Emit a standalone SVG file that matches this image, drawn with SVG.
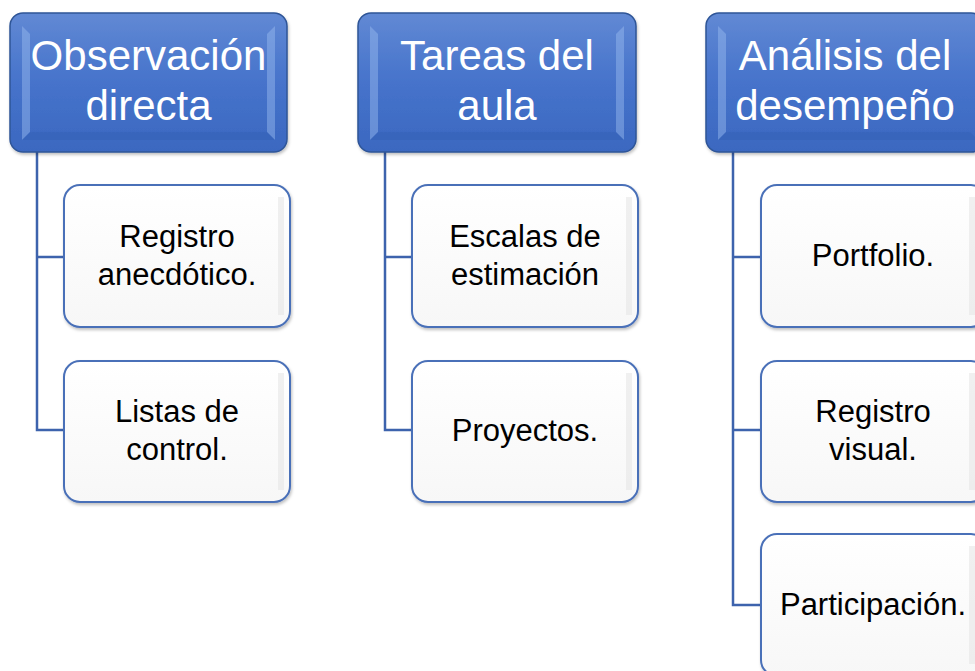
<svg xmlns="http://www.w3.org/2000/svg" width="975" height="671" viewBox="0 0 975 671">
<defs>
<linearGradient id="hg" x1="0" y1="0" x2="0" y2="1">
<stop offset="0" stop-color="#6189d4"/>
<stop offset="0.5" stop-color="#4673cb"/>
<stop offset="1" stop-color="#3b68c0"/>
</linearGradient>
<linearGradient id="cg" x1="0" y1="0" x2="0" y2="1">
<stop offset="0" stop-color="#ffffff"/>
<stop offset="1" stop-color="#f7f7f7"/>
</linearGradient>
<filter id="sh" x="-10%" y="-10%" width="120%" height="130%">
<feDropShadow dx="1" dy="2" stdDeviation="1.5" flood-color="#000" flood-opacity="0.25"/>
</filter>
</defs>
<style>
.hdr{fill:url(#hg);stroke:#2f5597;stroke-width:1.5;filter:url(#sh)}
.bev{fill:#9cbdf0;opacity:0.45}
.bevd{fill:#2b56a8;opacity:0.25}
.chd{fill:url(#cg);stroke:#4a70b8;stroke-width:2;filter:url(#sh)}
.cst{fill:#e6e6e6;opacity:0.6}
.ht{font-family:"Liberation Sans","Open Sans",sans-serif;font-size:42px;fill:#ffffff;text-anchor:middle}
.ct{font-family:"Liberation Sans","Open Sans",sans-serif;font-size:31px;fill:#000000;text-anchor:middle}
.cn{fill:none;stroke:#3d63ad;stroke-width:2.5}
</style>
<rect width="975" height="671" fill="#ffffff"/>
<g id="connectors">
<path class="cn" d="M37,152 V430 H64 M37,257 H64"/>
<path class="cn" d="M385,152 V430 H412 M385,257 H412"/>
<path class="cn" d="M733,152 V605 H761 M733,257 H761 M733,430 H761"/>
</g>
<g id="h1">
<rect class="hdr" x="10" y="13" width="277" height="139" rx="13"/>
<polygon class="bev" points="22,26 30,34 30,132 22,140"/>
<polygon class="bev" points="275,26 267,34 267,132 275,140"/>
<polygon class="bevd" points="22,140 30,132 267,132 275,140"/>
<text class="ht" x="148.5" y="70">Observación</text>
<text class="ht" x="148.5" y="120">directa</text>
</g>
<g id="h2">
<rect class="hdr" x="358" y="13" width="278" height="139" rx="13"/>
<polygon class="bev" points="370,26 378,34 378,132 370,140"/>
<polygon class="bev" points="624,26 616,34 616,132 624,140"/>
<polygon class="bevd" points="370,140 378,132 616,132 624,140"/>
<text class="ht" x="497" y="70">Tareas del</text>
<text class="ht" x="497" y="120">aula</text>
</g>
<g id="h3">
<rect class="hdr" x="706" y="13" width="278" height="139" rx="13"/>
<polygon class="bev" points="718,26 726,34 726,132 718,140"/>
<polygon class="bevd" points="718,140 726,132 970,132 978,140"/>
<text class="ht" x="845" y="70">Análisis del</text>
<text class="ht" x="845" y="120">desempeño</text>
</g>
<g id="c1a">
<rect class="chd" x="64" y="185" width="226" height="142" rx="16"/>
<rect class="cst" x="278" y="197" width="6" height="118"/>
<text class="ct" x="177" y="247">Registro</text>
<text class="ct" x="177" y="285">anecdótico.</text>
</g>
<g id="c1b">
<rect class="chd" x="64" y="361" width="226" height="141" rx="16"/>
<rect class="cst" x="278" y="373" width="6" height="117"/>
<text class="ct" x="177" y="422">Listas de</text>
<text class="ct" x="177" y="460">control.</text>
</g>
<g id="c2a">
<rect class="chd" x="412" y="185" width="226" height="142" rx="16"/>
<rect class="cst" x="626" y="197" width="6" height="118"/>
<text class="ct" x="525" y="247">Escalas de</text>
<text class="ct" x="525" y="285">estimación</text>
</g>
<g id="c2b">
<rect class="chd" x="412" y="361" width="226" height="141" rx="16"/>
<rect class="cst" x="626" y="373" width="6" height="117"/>
<text class="ct" x="525" y="441">Proyectos.</text>
</g>
<g id="c3a">
<rect class="chd" x="761" y="185" width="226" height="142" rx="16"/>
<rect class="cst" x="969" y="197" width="6" height="118"/>
<text class="ct" x="873" y="266">Portfolio.</text>
</g>
<g id="c3b">
<rect class="chd" x="761" y="361" width="226" height="141" rx="16"/>
<rect class="cst" x="969" y="373" width="6" height="117"/>
<text class="ct" x="873" y="422">Registro</text>
<text class="ct" x="873" y="460">visual.</text>
</g>
<g id="c3c">
<rect class="chd" x="761" y="534" width="226" height="142" rx="16"/>
<rect class="cst" x="969" y="546" width="6" height="118"/>
<text class="ct" x="873" y="615">Participación.</text>
</g>
</svg>
